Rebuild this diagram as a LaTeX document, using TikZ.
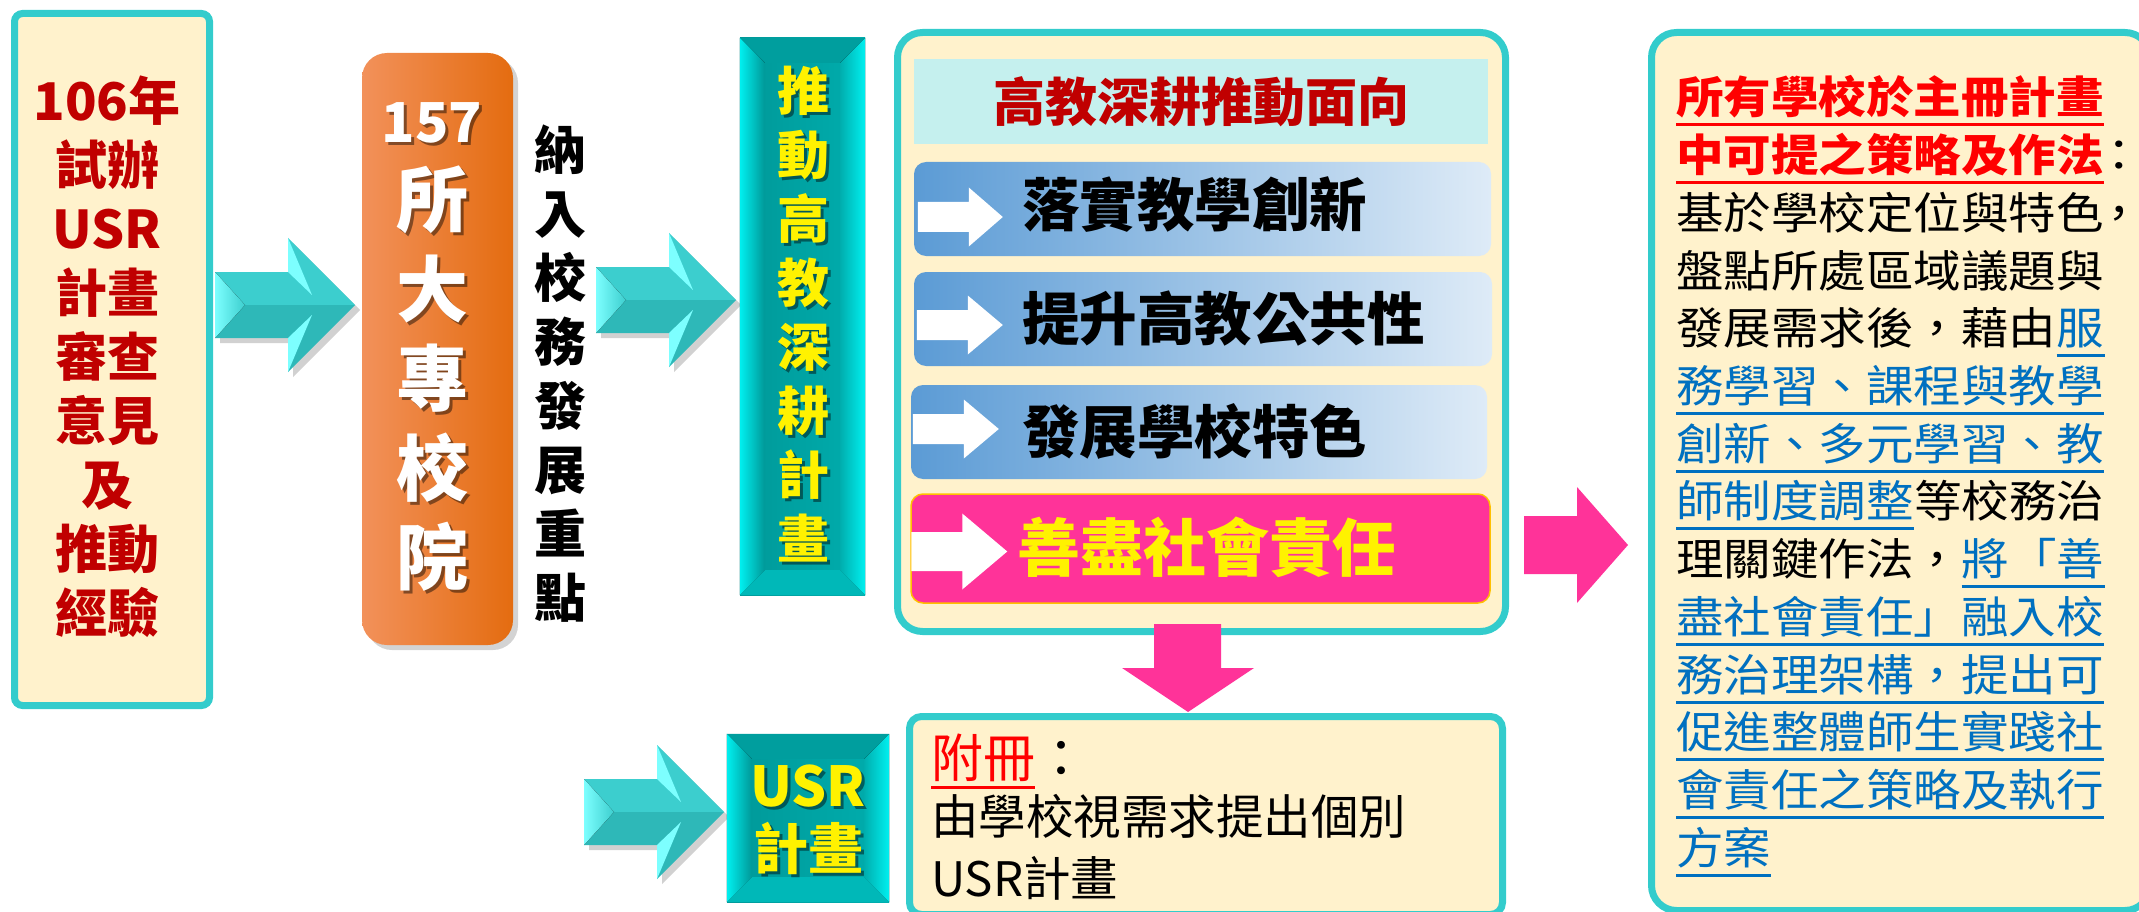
\documentclass[tikz,border=0pt]{standalone}
\usepackage{fontspec}
\setmainfont{Noto Sans CJK TC}
\newfontfamily\widefont{Noto Sans CJK TC}[FakeStretch=1.08]
\usetikzlibrary{shadows}
\definecolor{edgeteal}{RGB}{51,204,204}
\definecolor{cream}{RGB}{255,242,204}
\definecolor{darkred}{RGB}{192,0,0}
\definecolor{headcyan}{RGB}{197,240,238}
\definecolor{itemblue}{RGB}{91,155,213}
\definecolor{itemlight}{RGB}{222,235,247}
\definecolor{hotpink}{RGB}{255,51,153}
\definecolor{gold}{RGB}{255,192,0}
\definecolor{linkblue}{RGB}{0,112,192}
\definecolor{orangeL}{RGB}{242,145,90}
\definecolor{orangeR}{RGB}{228,108,16}
\definecolor{tealdark}{RGB}{0,152,152}
\definecolor{tealmid}{RGB}{0,174,174}
\definecolor{tealtop}{RGB}{0,158,158}
\definecolor{tealbottom}{RGB}{0,184,184}
\definecolor{glowcyan}{RGB}{0,240,240}
\definecolor{arrowtop}{RGB}{60,206,206}
\definecolor{arrowbot}{RGB}{46,184,184}
\definecolor{arrowlight}{RGB}{125,255,255}
\tikzset{
  framebox/.style={draw=edgeteal, line width=7pt, fill=cream, rounded corners=25pt},
  txt/.style={inner sep=0pt, align=center},
  shadowtext/.style={text=black, text opacity=.45},
  bevelbase/.style={left color=tealdark, right color=tealmid, inner sep=0pt},
  itembox/.style={left color=itemblue, right color=itemlight, rounded corners=12pt, minimum height=94pt},
  maintext/.style={inner sep=0pt, anchor=base west, font=\widefont\fontsize{44}{57.7}\selectfont},
  redhead/.style={maintext, text=red, font=\widefont\bfseries\fontsize{44}{57.7}\selectfont},
  link/.style={maintext, text=linkblue},
  annextext/.style={inner sep=0pt, anchor=base west},
  ulred/.style={red, line width=3pt},
  ulblue/.style={linkblue, line width=3pt},
  pics/tealarrow/.style={code={
    \fill[black, opacity=.18] (5,-28) -- (78,-28) -- (78,-62) -- (145,5) -- (78,72) -- (78,38) -- (5,38) -- cycle;
    \fill[arrowtop] (0,-33) -- (73,-33) -- (73,-67) -- (140,0) -- (0,0) -- cycle;
    \fill[arrowbot] (0,33) -- (73,33) -- (73,67) -- (140,0) -- (0,0) -- cycle;
    \fill[left color=arrowlight, right color=arrowtop] (0,-33) -- (30,0) -- (0,33) -- cycle;
    \fill[arrowlight] (73,-67) -- (97,-10) -- (73,-33) -- cycle;
    \fill[arrowlight] (73,67) -- (97,10) -- (73,33) -- cycle;
  }}
}
\newcommand{\bevels}[1]{%
  \fill[tealtop] (#1.north west) -- (#1.north east) -- ([shift={(-25,25)}]#1.north east) -- ([shift={(25,25)}]#1.north west) -- cycle;
  \fill[left color=glowcyan, right color=tealdark] (#1.north west) -- ([shift={(25,25)}]#1.north west) -- ([shift={(25,-25)}]#1.south west) -- (#1.south west) -- cycle;
  \fill[left color=tealmid, right color=glowcyan] (#1.north east) -- (#1.south east) -- ([shift={(-25,-25)}]#1.south east) -- ([shift={(-25,25)}]#1.north east) -- cycle;
  \fill[tealbottom] (#1.south west) -- (#1.south east) -- ([shift={(-25,-25)}]#1.south east) -- ([shift={(25,-25)}]#1.south west) -- cycle;
}
\begin{document}
\begin{tikzpicture}[x=1pt,y=-1pt]
\useasboundingbox (0,0) rectangle (2139,912);
\clip (0,0) rectangle (2139,912);

% pilot year box
\node[framebox, rounded corners=8pt, minimum width=195pt, minimum height=692pt] (pilot) at (112,359.5) {};
\node[txt, text=darkred, font=\bfseries\fontsize{52}{64}\selectfont] (pilottext) at (107,357) {106年\\試辦\\USR\\計畫\\審查\\意見\\及\\推動\\經驗};

% 157 schools
\node[left color=orangeL, right color=orangeR, rounded corners=25pt, minimum width=151pt, minimum height=592pt,
      drop shadow={opacity=.35, shadow xshift=5pt, shadow yshift=-5pt}] (schools) at (437.5,349) {};
\node[txt, shadowtext, font=\bfseries\fontsize{55}{64}\selectfont] (countshade) at (435,126) {157};
\node[txt, text=white, font=\bfseries\fontsize{55}{64}\selectfont] (count) at (432,123) {157};
\node[txt, shadowtext, font=\bfseries\fontsize{72}{89.5}\selectfont] (schoolsshade) at (435,382) {所\\大\\專\\校\\院};
\node[txt, text=white, font=\bfseries\fontsize{72}{89.5}\selectfont] (schoolstext) at (432,379) {所\\大\\專\\校\\院};

% focus text
\node[txt, font=\bfseries\fontsize{52}{64}\selectfont] (focus) at (560,374) {納\\入\\校\\務\\發\\展\\重\\點};

% block arrows
\pic at (215,305) {tealarrow};
\pic at (596,300) {tealarrow};
\pic at (584,812) {tealarrow};

% plan box
\node[bevelbase, minimum width=125pt, minimum height=557pt] (plan) at (802.5,316.5) {};
\bevels{plan}
\node[txt, shadowtext, font=\bfseries\fontsize{52}{64}\selectfont] (planshade) at (806,317) {推\\動\\高\\教\\深\\耕\\計\\畫};
\node[txt, text=yellow, font=\bfseries\fontsize{52}{64}\selectfont] (plantext) at (803,314) {推\\動\\高\\教\\深\\耕\\計\\畫};

% aspects panel
\node[framebox, minimum width=608pt, minimum height=599pt] (panel) at (1201.5,332) {};
\node[fill=headcyan, minimum width=574pt, minimum height=85pt, inner sep=0pt, text=darkred, font=\bfseries\fontsize{52}{60}\selectfont] (aspects) at (1201,101.5) {高教深耕推動面向};
\node[itembox, minimum width=577pt] (innov) at (1202.5,209) {};
\node[itembox, minimum width=578pt] (public) at (1203,319) {};
\node[itembox, minimum width=576pt] (feature) at (1199,432) {};
\node[draw=gold, line width=1.5pt, fill=hotpink, rounded corners=12pt, minimum width=579pt, minimum height=109pt] (social) at (1200.5,548.5) {};
\fill[white] ([shift={(4,-7)}]innov.west) -- ++(51,0) -- ++(0,-14.5) -- ++(34,29.5) -- ++(-34,29.5) -- ++(0,-14.5) -- ++(-51,0) -- cycle;
\fill[white] ([shift={(3,-9)}]public.west) -- ++(51,0) -- ++(0,-14.5) -- ++(35,29.5) -- ++(-35,29.5) -- ++(0,-14.5) -- ++(-51,0) -- cycle;
\fill[white] ([shift={(2,-18)}]feature.west) -- ++(51,0) -- ++(0,-14.5) -- ++(35,29.5) -- ++(-35,29.5) -- ++(0,-14.5) -- ++(-51,0) -- cycle;
\fill[white] ([shift={(1,-16.5)}]social.west) -- ++(51,0) -- ++(0,-18.5) -- ++(45,38) -- ++(-45,38) -- ++(0,-18.5) -- ++(-51,0) -- cycle;
\node[txt, anchor=west, font=\bfseries\fontsize{57.5}{60}\selectfont] (innovtext) at ([shift={(108,-4)}]innov.west) {落實教學創新};
\node[txt, anchor=west, font=\bfseries\fontsize{57.5}{60}\selectfont] (publictext) at ([shift={(108,0)}]public.west) {提升高教公共性};
\node[txt, anchor=west, font=\bfseries\fontsize{57.5}{60}\selectfont] (featuretext) at ([shift={(111,0)}]feature.west) {發展學校特色};
\node[txt, anchor=west, text=yellow, font=\bfseries\fontsize{63}{66}\selectfont] (socialtext) at ([shift={(107,-1)}]social.west) {善盡社會責任};

% pink arrows
\fill[hotpink] (1524,516) -- (1577,516) -- (1577,487) -- (1628,545) -- (1577,603) -- (1577,574) -- (1524,574) -- cycle;
\fill[hotpink] (1154,624) -- (1221,624) -- (1221,668) -- (1254,668) -- (1188,712) -- (1122,668) -- (1154,668) -- cycle;

% USR plan box
\node[bevelbase, minimum width=162pt, minimum height=168pt] (usrplan) at (808,818) {};
\bevels{usrplan}
\node[txt, shadowtext, font=\bfseries\fontsize{55}{63}\selectfont] (usrshade) at (811,823) {USR\\計畫};
\node[txt, text=yellow, font=\bfseries\fontsize{55}{63}\selectfont] (usrtext) at (808,820) {USR\\計畫};

% annex box
\node[framebox, rounded corners=12pt, minimum width=593pt, minimum height=198pt] (annex) at (1206,815.5) {};
\node[annextext, text=red, font=\fontsize{52}{60}\selectfont] (annexhead) at (931,777) {附冊};
\node[annextext, font=\fontsize{52}{60}\selectfont] (annexcolon) at (annexhead.base east) {：};
\draw[ulred] ([yshift=-10pt]annexhead.base west) -- ([yshift=-10pt]annexhead.base east);
\node[annextext, font=\fontsize{47.5}{60}\selectfont] (annexbody) at (931,834) {由學校視需求提出個別};
\node[annextext, font=\fontsize{47.5}{60}\selectfont] (annexusr) at (931,896) {USR計畫};

% main plan box
\node[framebox, minimum width=498.5pt, minimum height=878pt] (mainplan) at (1900.75,471.5) {};
\node[redhead] (goal1) at (1676,114) {所有學校於主冊計畫};
\node[redhead] (goal2) at (1676,171.7) {中可提之策略及作法};
\node[maintext] (goal2colon) at (goal2.base east) {\makebox[30pt][c]{：}};
\node[maintext] (line3) at (1676,229.4) {基於學校定位與特色};
\node[maintext] (line3comma) at (line3.base east) {\makebox[30pt][c]{，}};
\node[maintext] (line4) at (1676,287.1) {盤點所處區域議題與};
\node[maintext] (line5) at (1676,344.8) {發展需求後，藉由};
\node[link] (line5link) at (line5.base east) {服};
\node[link] (line6) at (1676,402.5) {務學習、課程與教學};
\node[link] (line7) at (1676,460.2) {創新、多元學習、教};
\node[link] (line8) at (1676,517.9) {師制度調整};
\node[maintext] (line8rest) at (line8.base east) {等校務治};
\node[maintext] (line9) at (1676,575.6) {理關鍵作法，};
\node[link] (line9link) at (line9.base east) {將「善};
\node[link] (line10) at (1676,633.3) {盡社會責任」融入校};
\node[link] (line11) at (1676,691) {務治理架構，提出可};
\node[link] (line12) at (1676,748.7) {促進整體師生實踐社};
\node[link] (line13) at (1676,806.4) {會責任之策略及執行};
\node[link] (line14) at (1676,864.1) {方案};
\foreach \seg in {goal1,goal2}
  \draw[ulred] ([yshift=-11pt]\seg.base west) -- ([yshift=-11pt]\seg.base east);
\foreach \seg in {line5link,line6,line7,line8,line9link,line10,line11,line12,line13,line14}
  \draw[ulblue] ([yshift=-11pt]\seg.base west) -- ([yshift=-11pt]\seg.base east);
\end{tikzpicture}
\end{document}
